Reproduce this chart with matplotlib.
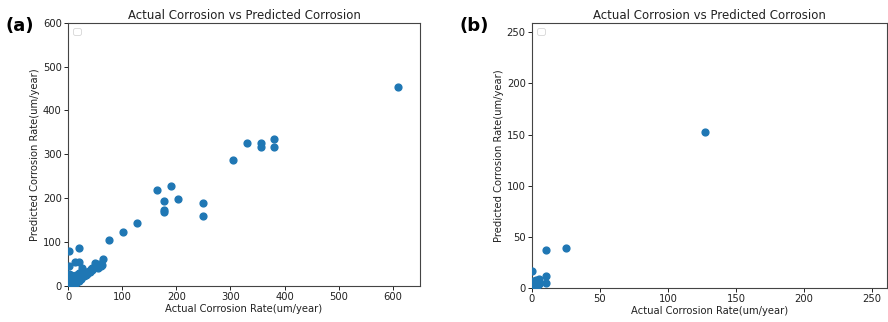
import numpy as np
import matplotlib
import matplotlib.pyplot as plt

matplotlib.use('Agg')

# panel (a): actual vs predicted corrosion rate (um/year)
actual_a = [610, 380, 380, 356, 356, 330, 304, 191, 165, 204, 177, 177, 177, 249, 249,
            127, 101, 76, 20, 1, 12, 20, 1, 65, 50, 62,
            0, 1, 2, 3, 1, 2, 5, 6, 8, 10, 12, 15, 18, 20, 22, 25, 25, 28, 30, 32,
            35, 38, 40, 42, 45, 48, 52, 55, 5, 3, 10, 15, 20, 0, 1, 58, 8, 4,
            0, 0, 2, 7, 14, 24, 27, 33, 44, 60]
predicted_a = [453, 335, 317, 325, 317, 325, 286, 227, 219, 199, 193, 173, 168, 190, 160,
               143, 122, 104, 87, 80, 55, 55, 46, 62, 52, 48,
               0, 2, 5, 10, 15, 20, 3, 8, 12, 5, 15, 10, 18, 12, 20, 25, 40, 30, 22, 33,
               28, 35, 32, 38, 36, 42, 45, 42, 25, 18, 20, 25, 30, 8, 25, 50, 2, 0,
               22, 12, 28, 18, 6, 15, 35, 26, 40, 46]

# panel (b)
actual_b = [127, 25, 10, 10, 10, 0, 5, 5, 1, 2, 3, 1, 2, 4, 3, 0, 4, 5, 1]
predicted_b = [153, 39, 37, 12, 5, 17, 9, 6, 1, 3, 5, 7, 2, 4, 8, 2, 2, 4, 4]

title = "Actual Corrosion vs Predicted Corrosion"
xlab = "Actual Corrosion Rate(um/year)"
ylab = "Predicted Corrosion Rate(um/year)"

fig = plt.figure(figsize=(8.88, 3.22), dpi=100)
ax_a = fig.add_axes([0.0766, 0.1118, 0.3964, 0.8177])
ax_b = fig.add_axes([0.599, 0.1056, 0.3995, 0.8239])

panels = [(ax_a, actual_a, predicted_a, (0, 650), (0, 600), "(a)", 0.006),
          (ax_b, actual_b, predicted_b, (0, 260.6), (0, 259.4), "(b)", 0.517)]

for ax, xs, ys, xl, yl, tag, tx in panels:
    ax.scatter(xs, ys, s=24, color='#1f77b4', zorder=3)
    ax.set_xlim(*xl)
    ax.set_ylim(*yl)
    ax.set_title(title, fontsize=8.5, color='#222222', pad=3)
    ax.set_xlabel(xlab, fontsize=7.2, color='#222222', labelpad=1)
    ax.set_ylabel(ylab, fontsize=7.2, color='#222222', labelpad=2)
    ax.tick_params(labelsize=7.2, length=3, width=0.7, pad=1.5, colors='#222222')
    for sp in ax.spines.values():
        sp.set_color('#444444')
        sp.set_linewidth(0.8)
    leg = ax.legend(handles=[], loc='upper left', fontsize=7)
    leg.get_frame().set_linewidth(0.6)
    fig.text(tx, 0.92, tag, fontsize=13, fontweight='bold', ha='left', va='center')

fig.savefig("out.png", dpi=100)
